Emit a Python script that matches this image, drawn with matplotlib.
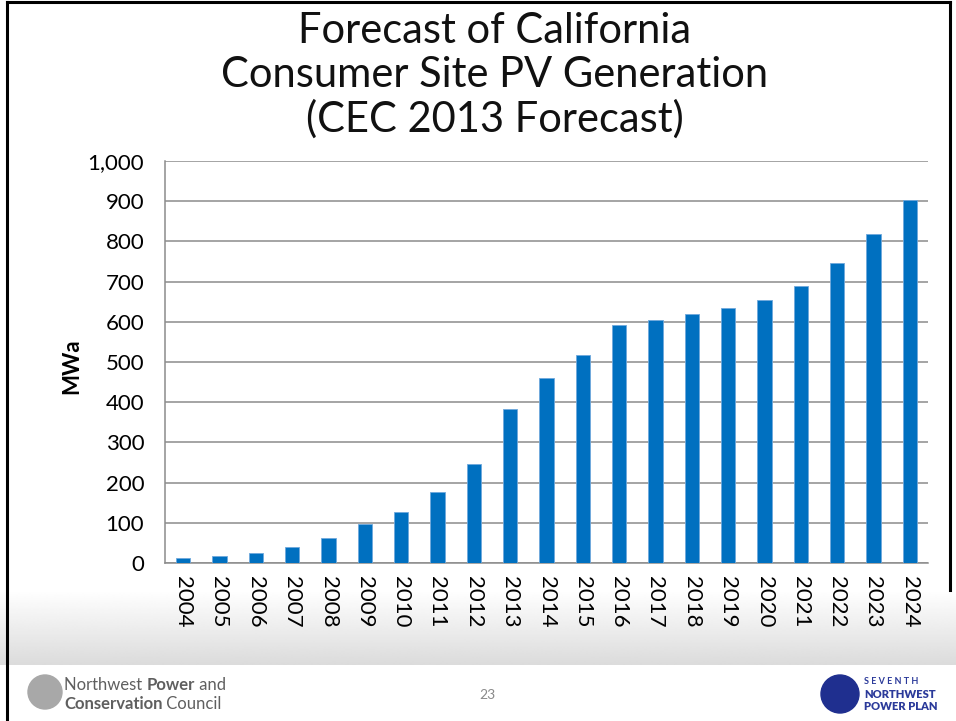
import numpy as np
import matplotlib
matplotlib.use('Agg')
import matplotlib.pyplot as plt
from matplotlib.patches import Circle

years = ['2004', '2005', '2006', '2007', '2008', '2009', '2010', '2011', '2012', '2013',
         '2014', '2015', '2016', '2017', '2018', '2019', '2020', '2021', '2022', '2023', '2024']
mwa = [12, 18, 26, 39, 63, 97, 127, 177, 247, 382,
       460, 518, 593, 605, 619, 634, 654, 690, 746, 819, 904]
yticks = [0, 100, 200, 300, 400, 500, 600, 700, 800, 900, 1000]
title_lines = ['Forecast of California', 'Consumer Site PV Generation', '(CEC 2013 Forecast)']

plt.rcParams['font.family'] = ['Lato', 'DejaVu Sans']

fig = plt.figure(figsize=(9.56, 7.21), dpi=100)
fig.patch.set_facecolor('white')

# slide background: gray gradient band above the footer
bg = fig.add_axes([0, 0, 1, 1], zorder=-5)
bg.set_xlim(0, 956)
bg.set_ylim(721, 0)
bg.axis('off')
grad = np.linspace(1.0, 0.86, 100).reshape(-1, 1)
bg.imshow(np.repeat(grad, 2, axis=1), cmap='gray', vmin=0, vmax=1, aspect='auto',
          extent=[0, 956, 665, 590], interpolation='bilinear')
bg.plot([7, 7], [2, 721], color='black', lw=2.2)
bg.plot([7, 950], [2, 2], color='black', lw=2.2)
bg.plot([950, 950], [2, 590], color='black', lw=2.2)

# title
for i, line in enumerate(title_lines):
    fig.text(495 / 956, 1 - (31 + 44 * i) / 721, line, ha='center', va='center',
             fontsize=30, fontweight='normal', color='#111111')

ax = fig.add_axes([165 / 956, 1 - 563 / 721, (928 - 165) / 956, (563 - 161) / 721])
x = np.arange(len(years))
ax.bar(x, mwa, width=0.4, color='#0070C0', edgecolor='#6fa8dc', linewidth=0.6, zorder=3)
ax.set_xlim(-0.5, len(years) - 0.5)
ax.set_ylim(0, 1000)
ax.set_yticks(yticks)
ax.set_yticklabels(['{:,}'.format(v) for v in yticks], fontsize=16)
ax.set_xticks(x)
ax.set_xticklabels(years, rotation=270, fontsize=16)
ax.tick_params(axis='y', length=0, pad=15)
ax.tick_params(axis='x', length=0, pad=9)
ax.yaxis.grid(True, color='#8c8c8c', lw=1.1)
ax.set_axisbelow(True)
for s in ['top', 'right']:
    ax.spines[s].set_visible(False)
for s in ['left', 'bottom']:
    ax.spines[s].set_color('#8c8c8c')
    ax.spines[s].set_linewidth(1.1)
ax.set_ylabel('MWa', fontsize=16, fontweight='bold')
ax.yaxis.set_label_coords(-0.122, 0.49)
ax.yaxis.label.set_va('center')
ax.patch.set_alpha(0)

# footer
def words(x0, y0, parts, size, color):
    prev = bg.text(x0, y0, parts[0][0], fontsize=size, color=color,
                   fontweight=parts[0][1], va='baseline')
    for txt, w in parts[1:]:
        prev = bg.annotate(txt, xy=(1, 0), xycoords=prev, va='bottom', ha='left',
                           fontsize=size, color=color, fontweight=w)

bg.add_patch(Circle((45, 692), 17, color='#a8a8a8'))
words(64, 690, [('Northwest ', 'normal'), ('Power', 'bold'), (' and', 'normal')], 12, '#5f5f5f')
words(64, 709, [('Conservation', 'bold'), (' Council', 'normal')], 12, '#5f5f5f')
bg.text(487, 695, '23', fontsize=10, color='#8a8a8a', ha='center', va='center')
bg.add_patch(Circle((840, 694), 19, color='#1f2f8f'))
bg.text(864, 681, 'S E V E N T H', fontsize=6.5, color='#2b3a9a', fontweight='bold', va='center')
bg.text(864, 694, 'NORTHWEST', fontsize=8, color='#2b3a9a', fontweight='heavy', va='center')
bg.text(864, 707, 'POWER PLAN', fontsize=8, color='#2b3a9a', fontweight='heavy', va='center')

fig.savefig('out.png', dpi=100)
